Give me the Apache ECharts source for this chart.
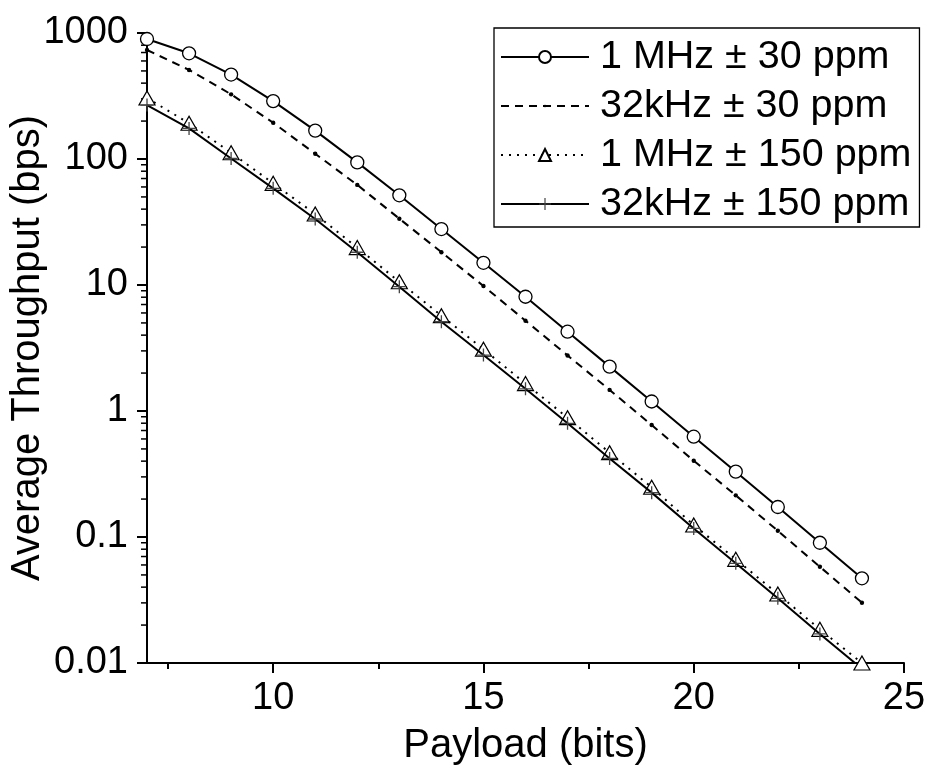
<!DOCTYPE html>
<html><head><meta charset="utf-8">
<script src="https://cdn.jsdelivr.net/npm/echarts@6/dist/echarts.min.js"></script>
<style>html,body{margin:0;padding:0;background:#fff}#c{width:928px;height:769px}</style>
</head><body><div id="c"></div>
<script>
// ---- data ----
const payloadBits = [7, 8, 9, 10, 11, 12, 13, 14, 15, 16, 17, 18, 19, 20, 21, 22, 23, 24];
const seriesNames = ['1 MHz ± 30 ppm', '32kHz ± 30 ppm', '1 MHz ± 150 ppm', '32kHz ± 150 ppm'];
const mhz1ppm30  = [896, 690, 468, 288, 168, 94, 51.5, 27.8, 15.0, 8.07, 4.26, 2.25, 1.19, 0.625, 0.33, 0.173, 0.090, 0.047];
const khz32ppm30 = [733, 509, 326, 194, 110, 62.3, 33.6, 18.2, 9.82, 5.21, 2.76, 1.47, 0.774, 0.403, 0.214, 0.112, 0.058, 0.0301];
const mhz1ppm150 = [305, 192, 112, 64.1, 36.6, 19.8, 10.6, 5.71, 3.09, 1.65, 0.885, 0.467, 0.248, 0.1245, 0.0665, 0.0353, 0.0185, 0.0100];
const khz32ppm150 = [268, 175, 101, 58.5, 33.4, 18.2, 9.7, 5.11, 2.78, 1.5, 0.798, 0.42, 0.225, 0.117, 0.0618, 0.0326, 0.017, 0.009];

const xTickValues = [10, 15, 20, 25];
const xMinorTickValues = [7.5, 12.5, 17.5, 22.5];
const yTickValues = [0.01, 0.1, 1, 10, 100, 1000];
const yTickLabels = ['0.01', '0.1', '1', '10', '100', '1000'];
const yMinorTickValues = [
  0.02, 0.03, 0.04, 0.05, 0.06, 0.07, 0.08, 0.09,
  0.2, 0.3, 0.4, 0.5, 0.6, 0.7, 0.8, 0.9,
  2, 3, 4, 5, 6, 7, 8, 9,
  20, 30, 40, 50, 60, 70, 80, 90,
  200, 300, 400, 500, 600, 700, 800, 900
];

// ---- chart ----
const FONT = 'Liberation Sans, Arial, sans-serif';
const X_MIN = 7, X_MAX = 25, Y_MIN = 0.01, Y_MAX = 1000;
const pairs = arr => payloadBits.map((x, i) => [x, arr[i]]);
const dotPath = 'path://M0,0 L0,0 M20,20 L20,20 M8,10 A2,2 0 1,1 12,10 A2,2 0 1,1 8,10 Z';
const plusPath = 'path://M6.3,0 H7.7 V6.3 H14 V7.7 H7.7 V14 H6.3 V7.7 H0 V6.3 H6.3 Z';

const chart = echarts.init(document.getElementById('c'), null, {renderer: 'canvas'});
chart.setOption({
  animation: false,
  backgroundColor: '#fff',
  grid: {left: 147, right: 24, top: 33, bottom: 106, containLabel: false, outerBoundsMode: 'none'},
  legend: {
    orient: 'vertical',
    left: 494, top: 28,
    padding: [9, 8, 3, 6],
    itemGap: 9,
    itemWidth: 88, itemHeight: 15,
    backgroundColor: '#fff',
    borderColor: '#000', borderWidth: 1.3,
    textStyle: {fontSize: 39.5, fontFamily: FONT, color: '#000', padding: [0, 0, 0, 6]},
    data: seriesNames
  },
  xAxis: [{
    type: 'value', min: X_MIN, max: X_MAX, position: 'bottom',
    name: 'Payload (bits)', nameLocation: 'middle', nameGap: 63,
    nameTextStyle: {fontSize: 40, fontFamily: FONT, color: '#000'},
    axisLine: {show: true, onZero: false, lineStyle: {color: '#000', width: 2}},
    axisTick: {show: true, inside: false, length: 10, customValues: xTickValues, lineStyle: {color: '#000', width: 2}},
    axisLabel: {show: true, customValues: xTickValues, margin: 17, fontSize: 38, fontFamily: FONT, color: '#000'},
    splitLine: {show: false}
  }, {
    type: 'value', min: X_MIN, max: X_MAX, position: 'bottom', gridIndex: 0,
    axisLine: {show: false, onZero: false},
    axisTick: {show: true, inside: false, length: 6, customValues: xMinorTickValues, lineStyle: {color: '#000', width: 2}},
    axisLabel: {show: false},
    splitLine: {show: false}
  }],
  yAxis: [{
    type: 'log', logBase: 10, min: Y_MIN, max: Y_MAX, position: 'left',
    name: 'Average Throughput (bps)', nameLocation: 'middle', nameGap: 99, nameMoveOverlap: false,
    nameTextStyle: {fontSize: 40, fontFamily: FONT, color: '#000'},
    axisLine: {show: true, onZero: false, lineStyle: {color: '#000', width: 2}},
    axisTick: {show: true, inside: false, length: 10, customValues: yTickValues, lineStyle: {color: '#000', width: 2}},
    axisLabel: {
      show: true, customValues: yTickValues, margin: 19, fontSize: 38, fontFamily: FONT, color: '#000',
      formatter: v => {
        const i = yTickValues.findIndex(t => Math.abs(Math.log10(t) - Math.log10(v)) < 1e-6);
        return i >= 0 ? yTickLabels[i] : '';
      }
    },
    splitLine: {show: false}
  }],
  series: [
    {
      name: seriesNames[0], type: 'line', data: pairs(mhz1ppm30),
      symbol: 'circle', symbolSize: 13, showAllSymbol: true,
      lineStyle: {color: '#000', width: 2, type: 'solid'},
      itemStyle: {color: '#fff', borderColor: '#000', borderWidth: 1.3},
      z: 4
    },
    {
      name: seriesNames[1], type: 'line', data: pairs(khz32ppm30),
      symbol: dotPath, symbolSize: 22, showAllSymbol: true,
      lineStyle: {color: '#000', width: 2, type: [8, 6]},
      itemStyle: {color: '#000', borderWidth: 0},
      z: 3
    },
    {
      name: seriesNames[2], type: 'line', data: pairs(mhz1ppm150),
      symbol: 'triangle', symbolSize: [16, 14], showAllSymbol: true,
      lineStyle: {color: '#000', width: 2, type: [2, 6]},
      itemStyle: {color: '#fff', borderColor: '#000', borderWidth: 1.2},
      z: 2
    },
    {
      name: seriesNames[3], type: 'line', data: pairs(khz32ppm150),
      symbol: plusPath, symbolSize: 13, showAllSymbol: true,
      lineStyle: {color: '#000', width: 2, type: 'solid'},
      itemStyle: {color: '#444', borderWidth: 0},
      z: 3
    },
    {
      // minor ticks of the log y axis, positioned through the axis scale
      name: 'yMinorTicks', type: 'custom', clip: false, silent: true,
      data: yMinorTickValues.map(v => [X_MIN, v]),
      renderItem: (params, api) => {
        const p = api.coord([api.value(0), api.value(1)]);
        return {
          type: 'line',
          shape: {x1: p[0] - 6, y1: p[1], x2: p[0], y2: p[1]},
          style: {stroke: '#000', lineWidth: 1.5}
        };
      },
      z: 1
    }
  ]
});
</script>
</body></html>
